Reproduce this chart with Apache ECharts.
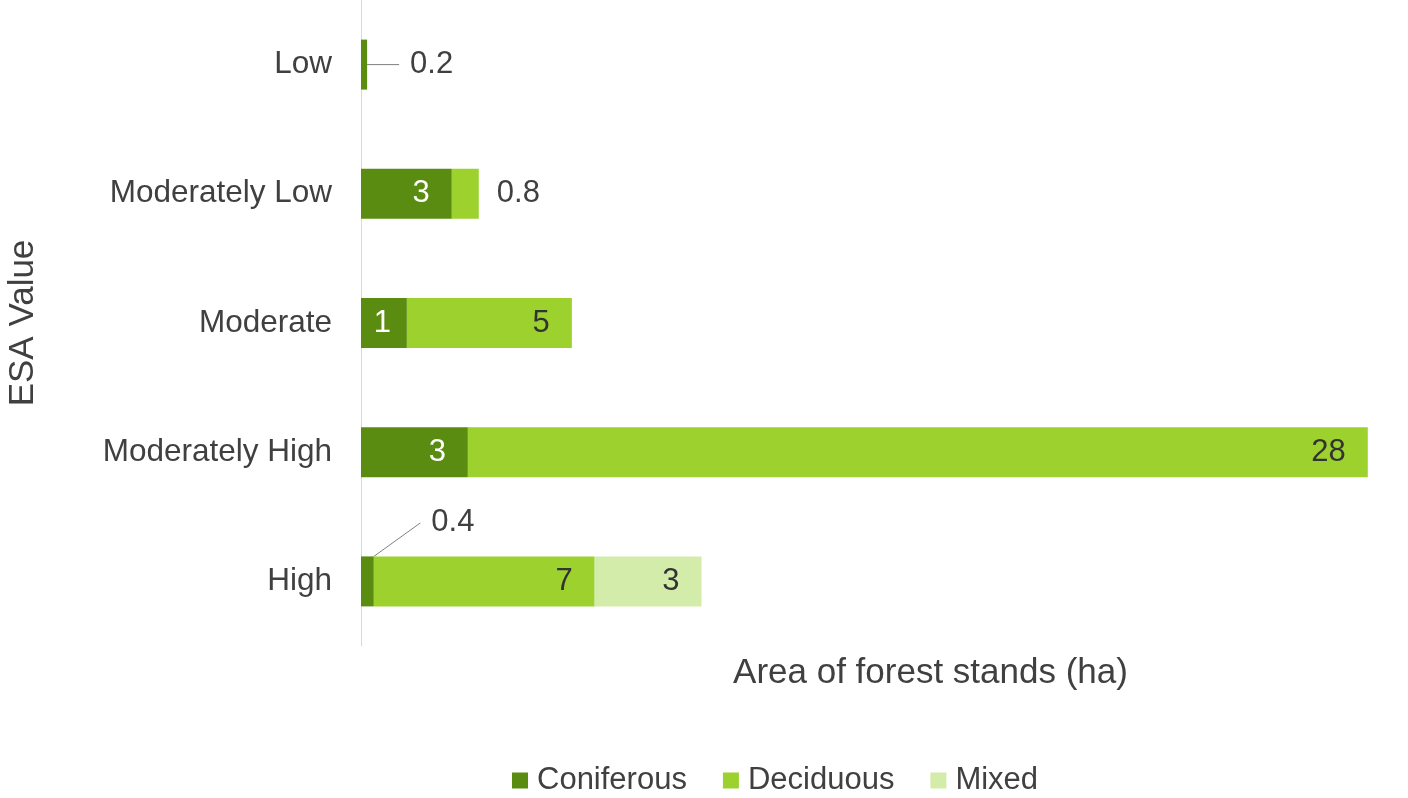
<!DOCTYPE html>
<html>
<head>
<meta charset="utf-8">
<script src="https://cdn.jsdelivr.net/npm/echarts@6/dist/echarts.min.js"></script>
<style>
html,body{margin:0;padding:0;background:#fff;}
#chart{width:1408px;height:798px;}
</style>
</head>
<body>
<div id="chart"></div>
<script>
const categories = ['Low', 'Moderately Low', 'Moderate', 'Moderately High', 'High'];
const seriesNames = ['Coniferous', 'Deciduous', 'Mixed'];
const coniferous = [0.19, 2.83, 1.43, 3.33, 0.4];
const deciduous = [0, 0.84, 5.14, 28.04, 6.88];
const mixed = [0, 0, 0, 0, 3.33];
const colors = ['#5b8c12', '#9cd12e', '#d3eca9'];
const xAxisName = 'Area of forest stands (ha)';
const yAxisName = 'ESA Value';

const FONT = '"Liberation Sans", Arial, sans-serif';
const TXT = '#404040';

function fmt(v) {
  if (!v) return '';
  return v >= 1 ? String(Math.round(v)) : v.toFixed(1);
}

function buildData(values, sIdx) {
  return values.map((v, i) => {
    const item = { value: v };
    if (v > 0 && v < 1) {
      if (sIdx === 0) {
        item.label = {
          position: i === 4 ? 'top' : 'right', distance: 5, color: TXT,
          padding: [0, 0, 0, 11], backgroundColor: 'rgba(255,255,255,0)'
        };
        item.labelLine = { show: true, lineStyle: { color: '#7f7f7f', width: 1 } };
      } else {
        item.label = { position: 'right', distance: 5, color: TXT };
      }
    } else if (sIdx === 0 && v < 2) {
      item.label = { distance: 16 };
    }
    return item;
  });
}

const chart = echarts.init(document.getElementById('chart'), null, { renderer: 'canvas' });

const seriesList = [coniferous, deciduous, mixed].map((arr, s) => ({
  name: seriesNames[s],
  type: 'bar',
  stack: 'total',
  barWidth: 50,
  itemStyle: { color: colors[s] },
  label: {
    show: true,
    position: 'insideRight',
    distance: 22,
    fontFamily: FONT,
    fontSize: 31,
    color: s === 0 ? '#ffffff' : '#333333',
    formatter: p => fmt(p.value)
  },
  data: buildData(arr, s)
}));

chart.setOption({
  animation: false,
  textStyle: { fontFamily: FONT },
  grid: { left: 361, right: 20, top: 0, bottom: 152, containLabel: false, outerBoundsMode: 'none' },
  legend: {
    left: 507,
    top: 760,
    itemWidth: 16,
    itemHeight: 16,
    itemGap: 36,
    icon: 'rect',
    data: seriesNames,
    textStyle: { fontFamily: FONT, fontSize: 31, color: TXT, padding: [0, 0, 0, 4] }
  },
  xAxis: {
    type: 'value',
    min: 0,
    max: 32,
    axisLine: { show: false },
    axisTick: { show: false },
    axisLabel: { show: false },
    splitLine: { show: false },
    name: xAxisName,
    nameLocation: 'middle',
    nameGap: 10,
    nameTextStyle: { fontFamily: FONT, fontSize: 35, color: TXT, padding: [0, 0, 0, 112] }
  },
  yAxis: {
    type: 'category',
    inverse: true,
    data: categories,
    axisLine: { show: true, lineStyle: { color: '#d9d9d9', width: 1 } },
    axisTick: { show: false },
    axisLabel: { fontFamily: FONT, fontSize: 31.5, color: TXT, margin: 29 },
    name: yAxisName,
    nameLocation: 'middle',
    nameGap: 320,
    nameTextStyle: { fontFamily: FONT, fontSize: 35, color: TXT }
  },
  labelLayout: function (params) {
    if (params.seriesIndex === 0 && params.dataIndex === 0) return { dx: 27 };
    if (params.seriesIndex === 0 && params.dataIndex === 4) return { dx: 80, dy: -13 };
    if (params.seriesIndex === 1 && params.dataIndex === 1) return { dx: 13 };
    return {};
  },
  series: seriesList
});
</script>
</body>
</html>
